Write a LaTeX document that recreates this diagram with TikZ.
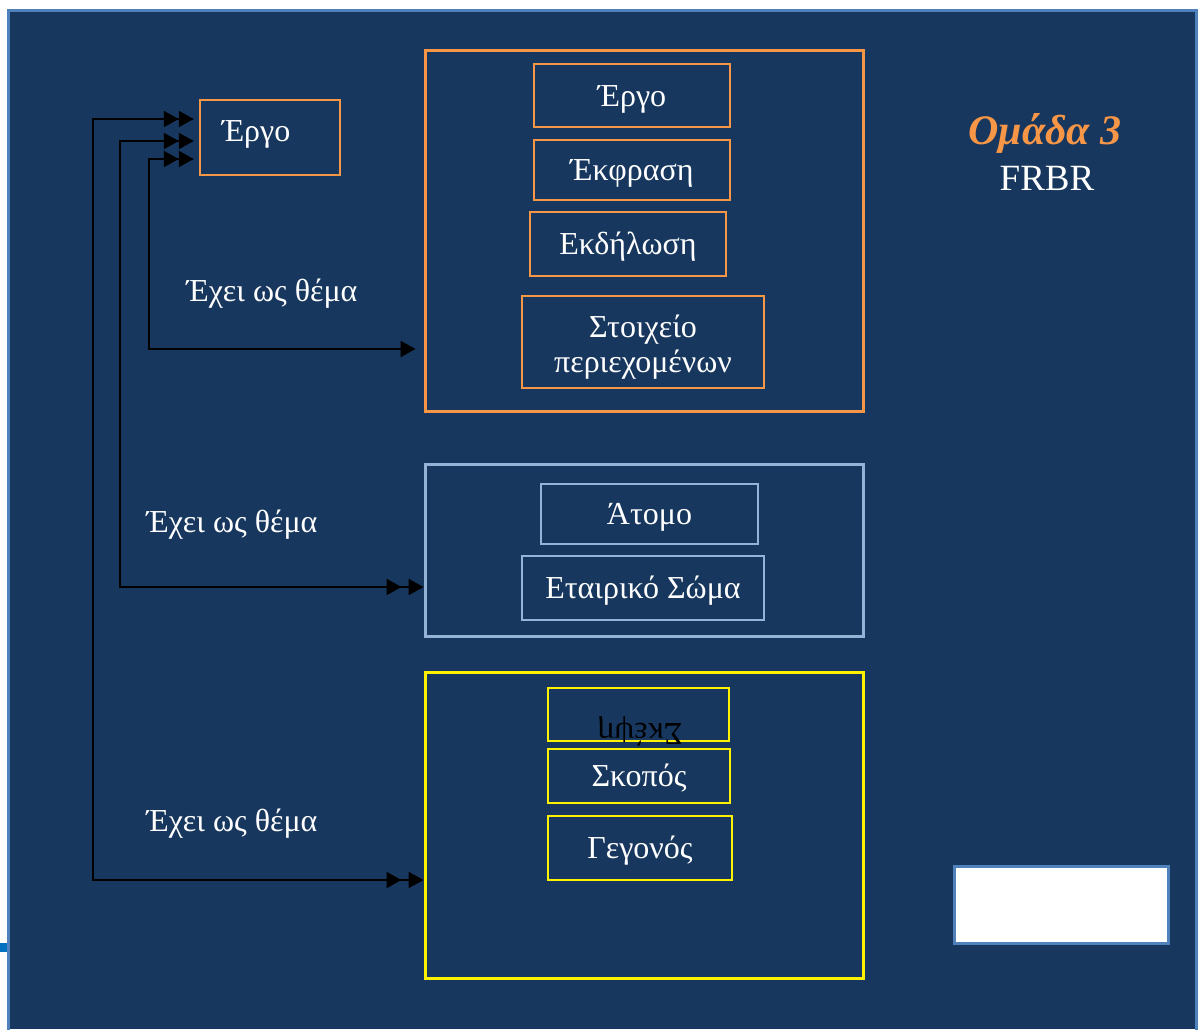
\documentclass[tikz,border=0pt]{standalone}
\usepackage{fontspec}
\setmainfont{Liberation Serif}
\usetikzlibrary{arrows.meta,positioning}
\definecolor{navy}{HTML}{17375E}
\definecolor{rimblue}{HTML}{4F81BD}
\definecolor{orng}{HTML}{F79646}
\definecolor{lblue}{HTML}{95B3D7}
\definecolor{tabblue}{HTML}{0070C0}
\begin{document}
\begin{tikzpicture}[x=1pt,y=-1pt,
	every node/.style={text=white,font=\fontsize{32}{35}\selectfont},
	group/.style={draw,line width=3pt,inner sep=0pt,minimum width=438pt},
	entity/.style={draw,line width=1.2pt,inner sep=0pt,align=center,text height=21pt,text depth=0pt},
	relname/.style={text height=21pt,text depth=0pt},
	dbl/.style={line width=2pt,{Triangle[length=15pt,width=16pt,sep=5pt]Triangle[length=15pt,width=16pt]}-{Triangle[length=15pt,width=16pt,sep=7pt]Triangle[length=15pt,width=16pt]}},
	one/.style={line width=2pt,{Triangle[length=15pt,width=16pt,sep=5pt]Triangle[length=15pt,width=16pt]}-{Triangle[length=15pt,width=16pt]},shorten >=8pt}]
	\useasboundingbox (0,0) rectangle (1200,1029);
	\fill[navy] (8,10) rectangle (1197,1029);
	\draw[rimblue,line width=2.5pt] (8.5,1035) -- (8.5,10.5) -- (1196.5,10.5) -- (1196.5,1035);
	\fill[tabblue] (0,943) rectangle (7,952);

	 \node (grp) [text=orng,font=\fontsize{42}{44}\selectfont\bfseries\itshape] at (1045,133) {Ομάδα 3};
	 \node (frbr) [font=\fontsize{37}{40}\selectfont] at (1047,178) {FRBR};
	 \node (blank) [draw=rimblue,line width=3pt,fill=white,minimum width=214pt,minimum height=77pt] at (1061,904.5) {};

	 \node (ergo) [entity,draw=orng,line width=2.5pt,minimum width=140pt,minimum height=75pt,
	 	text width=96pt,inner xsep=22pt,align=left,text depth=12.5pt] at (270,137.5) {Έργο};

	 \node (works)  [group,draw=orng,minimum height=361pt] at (644,230.5) {};
	 \node (people) [group,draw=lblue,minimum height=172pt] at (644,550) {};
	 \node (topics) [group,draw=yellow,minimum height=306pt] at (644,825) {};

	 \node (work)  [entity,draw=orng,minimum width=196pt,minimum height=63pt] at (632,95.5) {Έργο};
	 \node (expr)  [entity,draw=orng,minimum width=196pt,minimum height=60pt] at (632,170) {Έκφραση};
	 \node (manif) [entity,draw=orng,minimum width=196pt,minimum height=64pt] at (628,244) {Εκδήλωση};
	 \node (item)  [entity,draw=orng,minimum width=242pt,minimum height=92pt,text height=60pt] at (643,342) {Στοιχείο\\περιεχομένων};

	 \node (person) [entity,draw=lblue,minimum width=217pt,minimum height=60pt] at (649.5,514) {Άτομο};
	 \node (corp)   [entity,draw=lblue,minimum width=242pt,minimum height=64pt] at (643,588) {Εταιρικό Σώμα};

	 \node (concept) [entity,draw=yellow,minimum width=181pt,minimum height=53pt] at (638.5,714.5) {};
	 \node (thought) [text=black,rotate=180] at (640,731) {Σκέψη};
	 \node (object)  [entity,draw=yellow,minimum width=182pt,minimum height=54pt] at (639,776) {Σκοπός};
	 \node (event)   [entity,draw=yellow,minimum width=184pt,minimum height=64pt] at (640,848) {Γεγονός};

	 \coordinate (col1) at (149,0);
	 \coordinate (col2) at (120,0);
	 \coordinate (col3) at (93,0);
	 \coordinate (e1) at ([yshift=-21.5pt]ergo.west);
	 \coordinate (e2) at ([yshift=-3.5pt]ergo.west);
	 \coordinate (e3) at ([yshift=18.5pt]ergo.west);
	 \coordinate (w1) at ([yshift=-118.5pt]works.west);
	 \coordinate (p2) at ([yshift=-37pt]people.west);
	 \coordinate (t3) at ([yshift=-55pt]topics.west);

	 \draw[one] (e1) -| (w1 -| col1) -- (w1);
	 \draw[dbl] (e2) -| (p2 -| col2) -- (p2);
	 \draw[dbl] (e3) -| (t3 -| col3) -- (t3);

	 \node (has1) [relname] at (272,291) {Έχει ως θέμα};
	 \node (has2) [relname] at (232,522) {Έχει ως θέμα};
	 \node (has3) [relname] at (232,821) {Έχει ως θέμα};
	\end{tikzpicture}
\end{document}
